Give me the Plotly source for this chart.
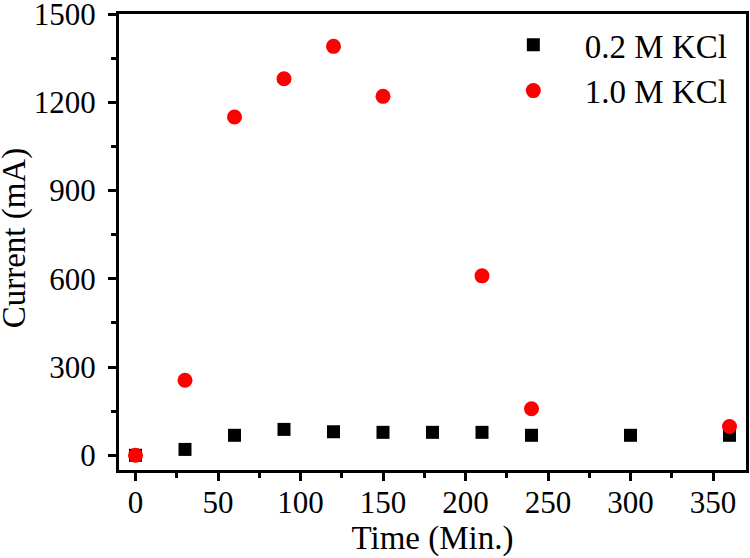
import plotly.graph_objects as go

time_02 = [0, 30, 60, 90, 120, 150, 180, 210, 240, 300, 360]
current_02 = [0, 20, 68, 88, 80, 78, 78, 78, 68, 68, 68]
time_10 = [0, 30, 60, 90, 120, 150, 210, 240, 360]
current_10 = [0, 255, 1150, 1280, 1390, 1220, 610, 158, 98]

x_ticks = [0, 50, 100, 150, 200, 250, 300, 350]
y_ticks = [0, 300, 600, 900, 1200, 1500]

FONT = "Liberation Serif"

fig = go.Figure()
fig.add_trace(go.Scatter(x=time_02, y=current_02, mode="markers", name="0.2 M KCl",
                         marker=dict(symbol="square", size=13, color="black")))
fig.add_trace(go.Scatter(x=time_10, y=current_10, mode="markers", name="1.0 M KCl",
                         marker=dict(symbol="circle", size=15, color="#ff0000")))

axis_common = dict(showline=True, linewidth=3, linecolor="black", mirror=True,
                   ticks="outside", ticklen=8, tickwidth=3, tickcolor="black",
                   showgrid=False, zeroline=False, automargin=False,
                   ticklabeloverflow="allow",
                   tickfont=dict(size=31, family=FONT, color="black"))

fig.update_xaxes(range=[-10, 370], tickvals=x_ticks, ticklabelstandoff=-5,
                 title=dict(text="Time (Min.)", font=dict(size=33, family=FONT, color="black"), standoff=4),
                 minor=dict(ticks="outside", ticklen=5, tickwidth=3, tickcolor="black", dtick=25, tick0=0),
                 **axis_common)
fig.update_yaxes(range=[-50, 1500], tickvals=y_ticks, ticklabelstandoff=6,
                 minor=dict(ticks="outside", ticklen=5, tickwidth=3, tickcolor="black", dtick=150, tick0=0),
                 **axis_common)

fig.add_annotation(text="Current (mA)", textangle=-90, xref="paper", yref="paper",
                   x=-0.166, y=0.51, xanchor="center", yanchor="middle", showarrow=False,
                   font=dict(size=33, family=FONT, color="black"))

fig.update_layout(
    width=750, height=558,
    margin=dict(l=119, r=4, t=14, b=88, autoexpand=False),
    plot_bgcolor="white", paper_bgcolor="white",
    font=dict(family=FONT, size=31, color="black"),
    legend=dict(x=0.979, y=0.994, xanchor="right", yanchor="top",
                bgcolor="rgba(0,0,0,0)", font=dict(size=33, family=FONT, color="black"),
                itemwidth=93, tracegroupgap=0),
    showlegend=True,
)

fig.write_html("out.html", config={"displayModeBar": False},
               post_script="document.body.style.margin='0';document.body.style.padding='0';")
